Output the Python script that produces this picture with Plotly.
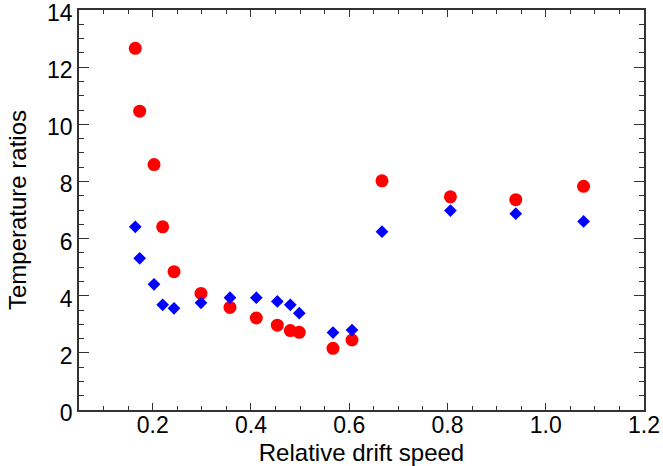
import plotly.graph_objects as go

drift_speed = [0.1646, 0.1735, 0.2027, 0.2203, 0.2434, 0.2983, 0.3573, 0.4109,
               0.4537, 0.4801, 0.4984, 0.567, 0.6057, 0.6667, 0.806, 0.939, 1.077]
ratio_red = [12.66, 10.46, 8.59, 6.41, 4.84, 4.08, 3.59, 3.22,
             2.97, 2.78, 2.72, 2.16, 2.45, 8.02, 7.46, 7.36, 7.83]
ratio_blue = [6.41, 5.31, 4.40, 3.68, 3.56, 3.75, 3.93, 3.93,
              3.80, 3.68, 3.39, 2.71, 2.80, 6.24, 6.98, 6.87, 6.60]

FONT = "Liberation Sans, Arial, Helvetica, sans-serif"

fig = go.Figure()
fig.add_trace(go.Scatter(x=drift_speed, y=ratio_red, mode="markers",
                         marker=dict(symbol="circle", size=13, color="#ff0000",
                                     line=dict(width=0)),
                         showlegend=False))
fig.add_trace(go.Scatter(x=drift_speed, y=ratio_blue, mode="markers",
                         marker=dict(symbol="diamond", size=9.8, color="#0000ff",
                                     line=dict(width=0)),
                         showlegend=False))

axis_common = dict(showgrid=False, zeroline=False, showline=True,
                   linecolor="#333333", linewidth=1.5, mirror="ticks",
                   ticks="inside", tickcolor="#333333", tickwidth=1.2,
                   ticklabeloverflow="allow",
                   tickfont=dict(family=FONT, size=23, color="black"))

fig.update_xaxes(range=[0.05, 1.2], tick0=0.2, dtick=0.2, tickformat=".1f",
                 ticklen=7, ticklabelstandoff=-6,
                 minor=dict(dtick=0.05, tick0=0.05, ticks="inside", ticklen=4,
                            tickcolor="#333333", tickwidth=1.2, showgrid=False),
                 title=dict(text="Relative drift speed",
                            font=dict(family=FONT, size=24, color="black"),
                            standoff=10),
                 **axis_common)
fig.update_yaxes(range=[0, 14], tick0=0, dtick=2, tickformat="d",
                 ticklen=10, ticklabelshift=3,
                 minor=dict(dtick=0.5, tick0=0, ticks="inside", ticklen=5,
                            tickcolor="#333333", tickwidth=1.2, showgrid=False),
                 title=dict(text="Temperature ratios",
                            font=dict(family=FONT, size=24, color="black"),
                            standoff=14),
                 **axis_common)

fig.update_layout(width=663, height=466,
                  margin=dict(l=79, r=19, t=10, b=56, autoexpand=False),
                  plot_bgcolor="white", paper_bgcolor="white")

fig.write_html("out.html")
